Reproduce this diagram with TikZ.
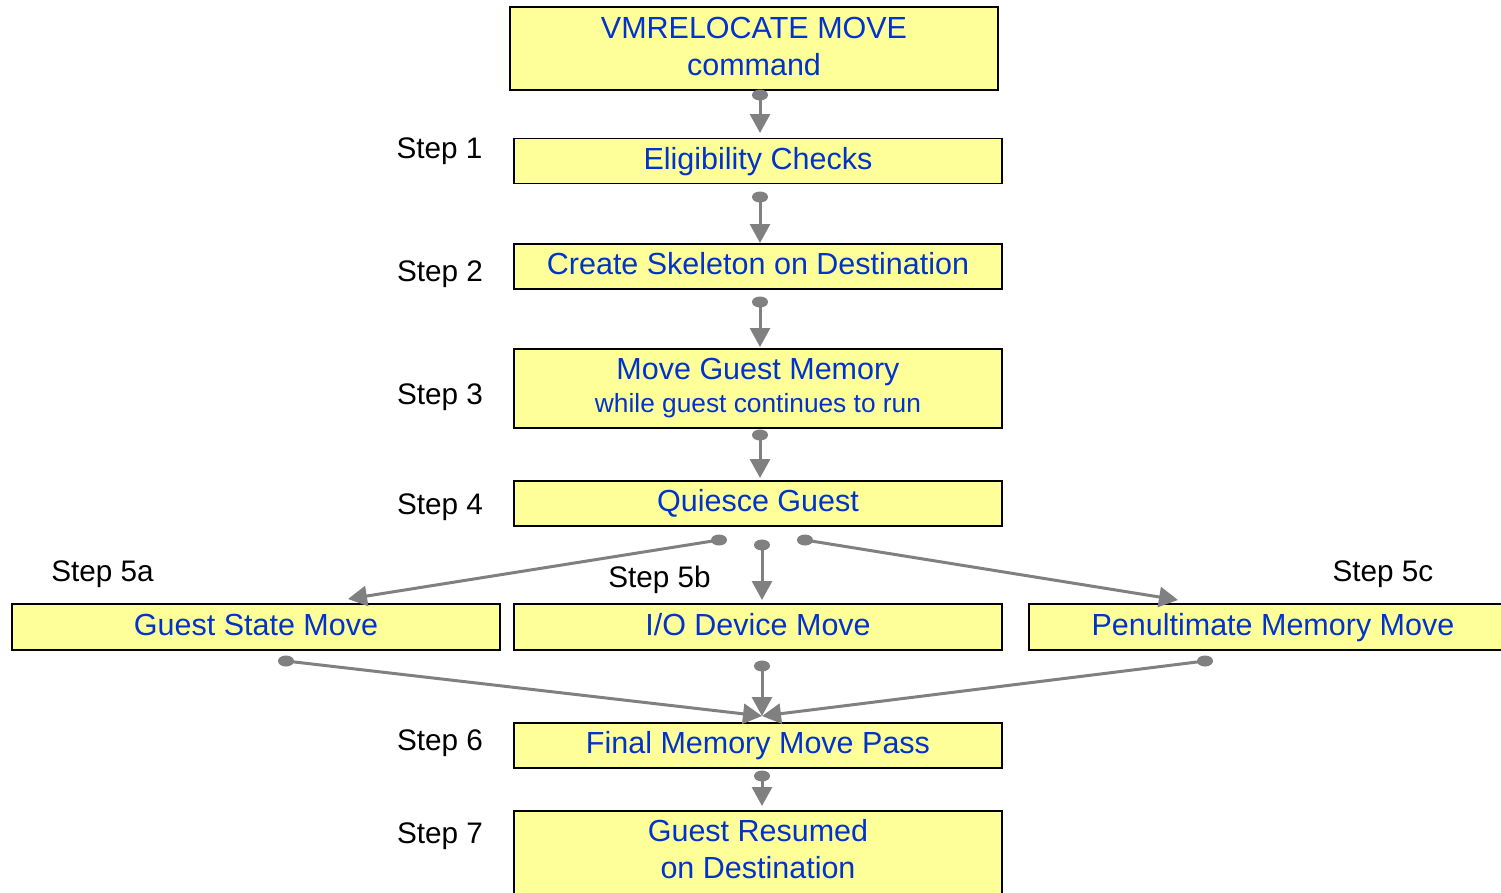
\documentclass[tikz,border=0pt]{standalone}
\usepackage{fontspec}
\setmainfont{Liberation Sans}
\usetikzlibrary{arrows.meta}
\definecolor{boxfill}{HTML}{FFFF99}
\definecolor{boxtext}{HTML}{0033CC}
\definecolor{conncol}{HTML}{808080}
\begin{document}
\begin{tikzpicture}[x=1pt,y=-1pt,
  box/.style={draw=black,line width=1.3pt,fill=boxfill,text=boxtext,minimum width=488pt,inner sep=0pt,align=center,text height=22pt,text depth=6pt,font=\fontsize{30.5}{37}\selectfont},
  btext/.style={text=boxtext,inner sep=0pt,align=center,font=\fontsize{30.5}{37}\selectfont},
  lbl/.style={font=\fontsize{29.7}{35}\selectfont,inner sep=0pt,anchor=base},
  conn/.style={draw=conncol,line width=3pt,-{Triangle[length=19pt,width=20pt]}},
  dotc/.style={fill=conncol}
]
\useasboundingbox (0,0) rectangle (1501,892);
% boxes
\node[box,minimum height=83pt] (vm) at (754,48.5) {};
\node[btext] (vmtext) at ([yshift=2pt]vm.center) {VMRELOCATE MOVE\\command};
\node[box,minimum height=45pt] (elig) at (758,161) {Eligibility Checks};
\node[box,minimum height=45pt] (skel) at (758,266.5) {Create Skeleton on Destination};
\node[box,minimum height=79pt] (mem) at (758,388.5) {};
\node[btext] (memtext) at (mem.center) {Move Guest Memory\\[-4pt]{\fontsize{26.3}{30}\selectfont while guest continues to run}};
\node[box,minimum height=45pt] (qui) at (758,503.5) {Quiesce Guest};
\node[box,minimum height=46pt] (gsm) at (256,627) {Guest State Move};
\node[box,minimum height=46pt] (io) at (758,627) {I/O Device Move};
\node[box,minimum height=46pt] (pen) at (1273,627) {Penultimate Memory Move};
\node[box,minimum height=45pt] (fin) at (758,745.5) {Final Memory Move Pass};
\node[box,minimum height=83pt] (res) at (758,852.5) {};
\node[btext] (restext) at ([yshift=3pt]res.center) {Guest Resumed\\on Destination};
% step labels
\node[lbl] (l1) at (439.5,158) {Step 1};
\node[lbl] (l2) at (440,281) {Step 2};
\node[lbl] (l3) at (440,404) {Step 3};
\node[lbl] (l4) at (440,514) {Step 4};
\node[lbl] (l5a) at (102.5,581) {Step 5a};
\node[lbl] (l5b) at (659.5,587) {Step 5b};
\node[lbl] (l5c) at (1383,581) {Step 5c};
\node[lbl] (l6) at (440,750) {Step 6};
\node[lbl] (l7) at (440,843) {Step 7};
% connector ends
\coordinate (d1) at (760,95);   \coordinate (t1) at (760,133);
\coordinate (d2) at (760,197);  \coordinate (t2) at (760,243);
\coordinate (d3) at (760,302);  \coordinate (t3) at (760,347);
\coordinate (d4) at (760,435);  \coordinate (t4) at (760,478);
\coordinate (d5a) at (719,540); \coordinate (t5a) at (348,599);
\coordinate (d5b) at (762,545); \coordinate (t5b) at (762,600);
\coordinate (d5c) at (805,540); \coordinate (t5c) at (1178,600);
\coordinate (d6a) at (286,661);
\coordinate (d6b) at (762,666);
\coordinate (d6c) at (1205,661);
\coordinate (t6) at (762,716);
\coordinate (d7) at (762,776);  \coordinate (t7) at (762,806);
\foreach \a/\b in {d1/t1,d2/t2,d3/t3,d4/t4,d5a/t5a,d5b/t5b,d5c/t5c,d6a/t6,d6b/t6,d6c/t6,d7/t7}{
  \draw[conn] (\a) -- (\b);
  \fill[dotc] (\a) ellipse [x radius=8pt, y radius=5.5pt];
}
\end{tikzpicture}
\end{document}
